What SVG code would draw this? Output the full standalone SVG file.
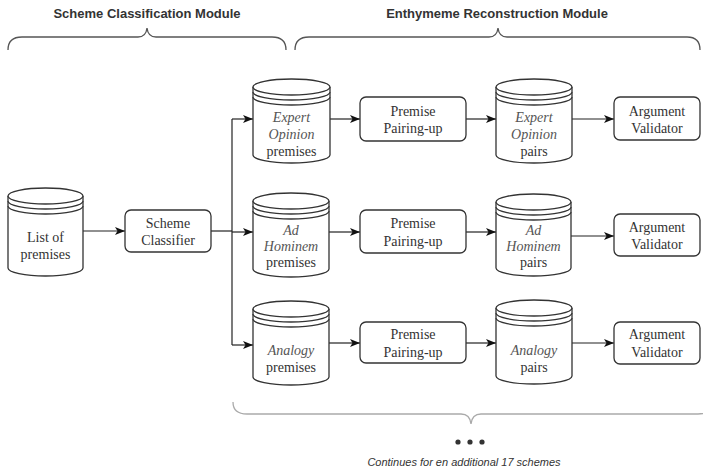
<svg xmlns="http://www.w3.org/2000/svg" width="703" height="471" viewBox="0 0 703 471">
<defs>
<marker id="ah" markerUnits="userSpaceOnUse" markerWidth="10" markerHeight="10" viewBox="0 0 10 10" refX="10" refY="5" orient="auto">
<path d="M0,1 L10,5 L0,9 L2.5,5 Z" fill="#111"/>
</marker>
</defs>
<style>
.cyl{fill:#fff;stroke:#333;stroke-width:1.3}
.box{fill:#fff;stroke:#333;stroke-width:1.3}
.t{font-family:"Liberation Serif","Times New Roman","DejaVu Serif",serif;font-size:14px;fill:#333;text-anchor:middle}
.i{font-style:italic;fill:#555}
.h{font-family:"Liberation Sans",Arial,sans-serif;font-size:13px;font-weight:bold;fill:#333;text-anchor:middle}
.brace{fill:none;stroke:#555;stroke-width:1.3}
.brace2{fill:none;stroke:#aaa;stroke-width:1.3}
.c{fill:none;stroke:#222;stroke-width:1.2}
.a{fill:none;stroke:#222;stroke-width:1.2;marker-end:url(#ah)}
.note{font-family:"Liberation Sans",Arial,sans-serif;font-size:11px;font-style:italic;fill:#333;text-anchor:middle}
</style>

<g id="headers">
<text class="h" x="147" y="18">Scheme Classification Module</text>
<text class="h" x="497" y="18">Enthymeme Reconstruction Module</text>
<path class="brace" d="M8,50 Q8,37 22,37 L138,37 Q146,37 147,28 Q148,37 156,37 L272,37 Q286,37 286,50"/>
<path class="brace" d="M295,50 Q295,37 309,37 L489,37 Q497,37 498,28 Q499,37 507,37 L687,37 Q700,37 700,50"/>
</g>

<g id="connectors">
<line class="a" x1="83" y1="231" x2="125" y2="231"/>
<polyline class="c" points="211,231 232,231"/>
<line class="c" x1="232" y1="119" x2="232" y2="345"/>
<line class="a" x1="232" y1="119" x2="253" y2="119"/>
<line class="a" x1="232" y1="232" x2="253" y2="232"/>
<line class="a" x1="232" y1="345" x2="253" y2="345"/>
<line class="a" x1="330" y1="119" x2="360" y2="119"/>
<line class="a" x1="329" y1="232" x2="360" y2="232"/>
<line class="a" x1="329" y1="343" x2="360" y2="343"/>
<line class="a" x1="466" y1="119" x2="496" y2="119"/>
<line class="a" x1="466" y1="232" x2="496" y2="232"/>
<line class="a" x1="466" y1="343" x2="496" y2="343"/>
<line class="a" x1="572" y1="119" x2="614" y2="119"/>
<line class="a" x1="571" y1="236" x2="614" y2="236"/>
<line class="a" x1="572" y1="343" x2="614" y2="343"/>
</g>

<g id="list-premises">
<path class="cyl" d="M8,196 A37.5,8 0 0 1 83,196 L83,268 A37.5,8 0 0 1 8,268 Z"/>
<path class="cyl" fill="none" d="M8,196 A37.5,8 0 0 0 83,196 M8,201 A37.5,8 0 0 0 83,201 M8,206 A37.5,8 0 0 0 83,206"/>
<text class="t" x="45.5" y="242">List of</text>
<text class="t" x="45.5" y="259">premises</text>
</g>

<g id="scheme-classifier">
<rect class="box" x="125" y="210" width="86" height="42" rx="6"/>
<text class="t" x="168" y="228">Scheme</text>
<text class="t" x="168" y="245">Classifier</text>
</g>

<g id="expert-premises">
<path class="cyl" d="M253,87 A38.5,8 0 0 1 330,87 L330,155 A38.5,8 0 0 1 253,155 Z"/>
<path class="cyl" fill="none" d="M253,87 A38.5,8 0 0 0 330,87 M253,92 A38.5,8 0 0 0 330,92 M253,97 A38.5,8 0 0 0 330,97"/>
<text class="t i" x="291.5" y="122">Expert</text>
<text class="t i" x="291.5" y="139">Opinion</text>
<text class="t" x="291.5" y="156">premises</text>
</g>

<g id="adhominem-premises">
<path class="cyl" d="M253,201 A38,8 0 0 1 329,201 L329,269 A38,8 0 0 1 253,269 Z"/>
<path class="cyl" fill="none" d="M253,201 A38,8 0 0 0 329,201 M253,206 A38,8 0 0 0 329,206 M253,211 A38,8 0 0 0 329,211"/>
<text class="t i" x="291" y="235">Ad</text>
<text class="t i" x="291" y="251">Hominem</text>
<text class="t" x="291" y="267">premises</text>
</g>

<g id="analogy-premises">
<path class="cyl" d="M253,309 A38,8 0 0 1 329,309 L329,377 A38,8 0 0 1 253,377 Z"/>
<path class="cyl" fill="none" d="M253,309 A38,8 0 0 0 329,309 M253,314 A38,8 0 0 0 329,314 M253,319 A38,8 0 0 0 329,319"/>
<text class="t i" x="291" y="355">Analogy</text>
<text class="t" x="291" y="372">premises</text>
</g>

<g id="pairing-expert">
<rect class="box" x="360" y="97" width="106" height="44" rx="6"/>
<text class="t" x="413" y="116">Premise</text>
<text class="t" x="413" y="133">Pairing-up</text>
</g>
<g id="pairing-adhominem">
<rect class="box" x="360" y="210" width="106" height="43" rx="6"/>
<text class="t" x="413" y="228">Premise</text>
<text class="t" x="413" y="246">Pairing-up</text>
</g>
<g id="pairing-analogy">
<rect class="box" x="360" y="322" width="106" height="41" rx="6"/>
<text class="t" x="413" y="339">Premise</text>
<text class="t" x="413" y="357">Pairing-up</text>
</g>

<g id="expert-pairs">
<path class="cyl" d="M496,87 A38,8 0 0 1 572,87 L572,155 A38,8 0 0 1 496,155 Z"/>
<path class="cyl" fill="none" d="M496,87 A38,8 0 0 0 572,87 M496,92 A38,8 0 0 0 572,92 M496,97 A38,8 0 0 0 572,97"/>
<text class="t i" x="534" y="122">Expert</text>
<text class="t i" x="534" y="139">Opinion</text>
<text class="t" x="534" y="156">pairs</text>
</g>

<g id="adhominem-pairs">
<path class="cyl" d="M496,202 A37.5,8 0 0 1 571,202 L571,268 A37.5,8 0 0 1 496,268 Z"/>
<path class="cyl" fill="none" d="M496,202 A37.5,8 0 0 0 571,202 M496,207 A37.5,8 0 0 0 571,207 M496,212 A37.5,8 0 0 0 571,212"/>
<text class="t i" x="533.5" y="235">Ad</text>
<text class="t i" x="533.5" y="251">Hominem</text>
<text class="t" x="533.5" y="267">pairs</text>
</g>

<g id="analogy-pairs">
<path class="cyl" d="M496,308 A38,8 0 0 1 572,308 L572,376 A38,8 0 0 1 496,376 Z"/>
<path class="cyl" fill="none" d="M496,308 A38,8 0 0 0 572,308 M496,313 A38,8 0 0 0 572,313 M496,318 A38,8 0 0 0 572,318"/>
<text class="t i" x="534" y="355">Analogy</text>
<text class="t" x="534" y="372">pairs</text>
</g>

<g id="validator-expert">
<rect class="box" x="614" y="97" width="86" height="43" rx="6"/>
<text class="t" x="657" y="116">Argument</text>
<text class="t" x="657" y="133">Validator</text>
</g>
<g id="validator-adhominem">
<rect class="box" x="614" y="214" width="86" height="42" rx="6"/>
<text class="t" x="657" y="232">Argument</text>
<text class="t" x="657" y="249">Validator</text>
</g>
<g id="validator-analogy">
<rect class="box" x="614" y="322" width="86" height="42" rx="6"/>
<text class="t" x="657" y="339">Argument</text>
<text class="t" x="657" y="357">Validator</text>
</g>

<g id="continuation">
<path class="brace2" d="M233,402 Q233,414 247,414 L461,414 Q470,414 471,424 Q472,414 481,414 L698,414 Q712,414 712,402"/>
<circle cx="458" cy="442" r="2.6" fill="#333"/>
<circle cx="470" cy="442" r="2.6" fill="#333"/>
<circle cx="482" cy="442" r="2.6" fill="#333"/>
<text class="note" x="464" y="466">Continues for en additional 17 schemes</text>
</g>
</svg>
